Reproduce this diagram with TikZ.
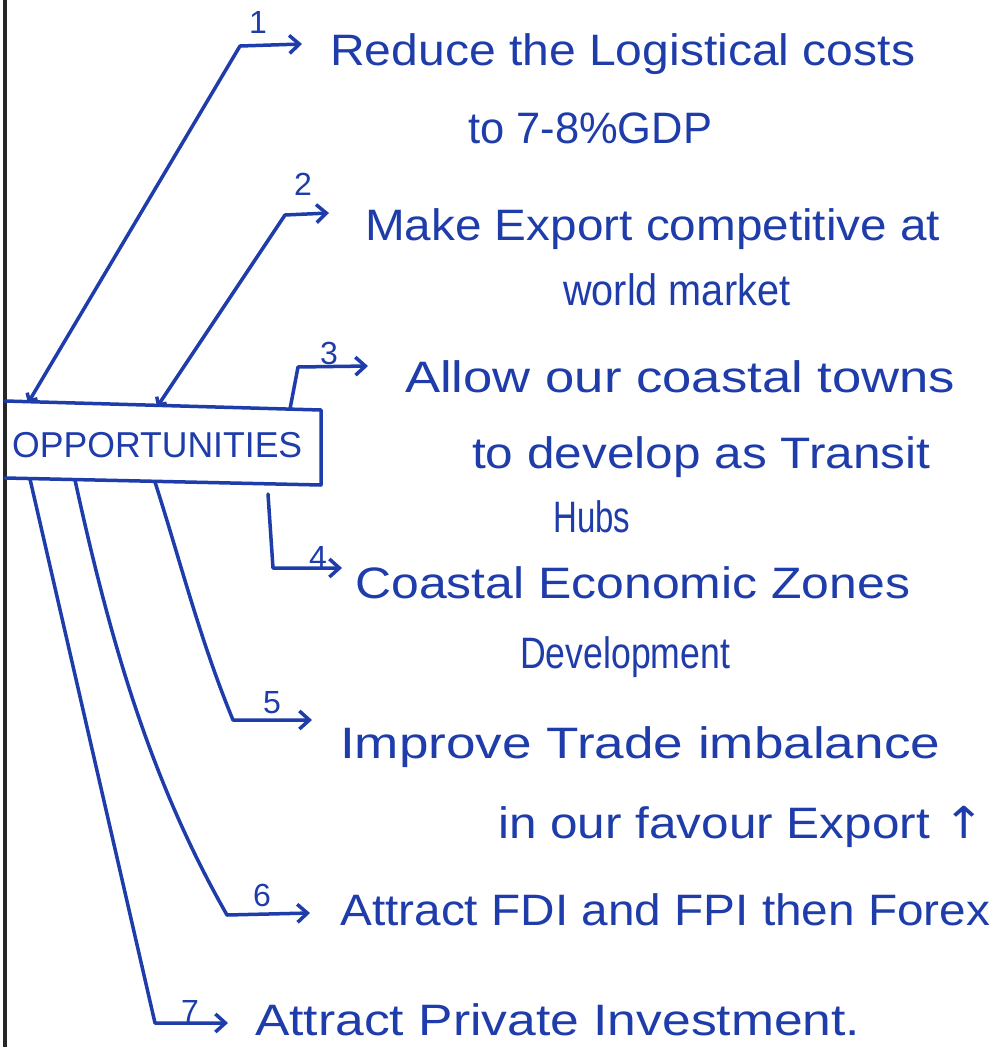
\documentclass[tikz,border=0pt]{standalone}
\usepackage{fontspec}
\usepackage{graphicx}
\setmainfont{Liberation Sans}
\newfontfamily\dvfont{DejaVu Sans}
\usetikzlibrary{arrows.meta}
\definecolor{ink}{RGB}{30,60,170}
\newcommand{\hw}[2]{\resizebox{#1pt}{\height}{#2}}
\tikzset{
  txt/.style={anchor=base west, inner sep=0pt, text=ink, font=\fontsize{44}{50}\selectfont},
  num/.style={inner sep=0pt, text=ink, font=\fontsize{32}{36}\selectfont},
  con/.style={draw=ink, line width=3.5pt, line cap=round, line join=round},
  tip/.style={-{Straight Barb[length=10pt,width=18pt,line width=3.5pt]}},
  tips/.style={{Straight Barb[length=6pt,width=12pt,line width=3.5pt]}-{Straight Barb[length=10pt,width=18pt,line width=3.5pt]}},
}
\begin{document}
\begin{tikzpicture}[x=1pt,y=-1pt]
\useasboundingbox[fill=white] (0,0) rectangle (998,1047);
% page border
\draw[line width=4pt, black!85] (5,0) -- (5,1047);
% box corners
\coordinate (tl) at (5,401);
\coordinate (tr) at (321,410);
\coordinate (br) at (321,485);
\coordinate (bl) at (5,478);
\draw[con] (tl) -- (tr) -- (br) -- (bl);
\node[inner sep=0pt, text=ink, font=\fontsize{36}{40}\selectfont, anchor=base west] (opp) at (12,457) {\hw{290}{OPPORTUNITIES}};
% connector anchor points on box
\coordinate (b1) at (28,403);
\coordinate (b2) at (157,407);
\coordinate (b3) at (290,409);
\coordinate (b4) at (268,494);
\coordinate (b5) at (155,482);
\coordinate (b6) at (75,480);
\coordinate (b7) at (30,479);
% bends
\coordinate (k1) at (240,46);
\coordinate (k2) at (285,215);
\coordinate (k3) at (298,367);
\coordinate (k4) at (273,568);
\coordinate (k5) at (233,720);
\coordinate (k6) at (227,915);
\coordinate (k7) at (155,1023);
% ends
\coordinate (e1) at (302,44);
\coordinate (e2) at (329,213);
\coordinate (e3) at (368,366);
\coordinate (e4) at (342,568);
\coordinate (e5) at (312,720);
\coordinate (e6) at (310,913);
\coordinate (e7) at (228,1023);
% connectors
\draw[con,tips] (b1) -- (k1) -- (e1);
\draw[con,tips] (b2) -- (k2) -- (e2);
\draw[con,tip] (b3) -- (k3) -- (e3);
\draw[con,tip] (b4) -- (k4) -- (e4);
\draw[con,tip] (b5) .. controls (180,560) and (200,640) .. (k5) -- (e5);
\draw[con,tip] (b6) .. controls (110,640) and (150,780) .. (k6) -- (e6);
\draw[con,tip] (b7) -- (k7) -- (e7);
% numbers
\node[num] (n1) at (258,22) {1};
\node[num] (n2) at (303,184) {2};
\node[num] (n3) at (329,353) {3};
\node[num] (n4) at (318,557) {4};
\node[num] (n5) at (272,703) {5};
\node[num] (n6) at (262,895) {6};
\node[num] (n7) at (190,1011) {7};
% texts
\node[txt] (t1a) at (330,65) {\hw{585}{Reduce the Logistical costs}};
\node[txt] (t1b) at (468,143) {\hw{244}{to 7-8\%GDP}};
\node[txt] (t2a) at (365,240) {\hw{575}{Make Export competitive at}};
\node[txt] (t2b) at (563,305) {\hw{227}{world market}};
\node[txt] (t3a) at (405,392) {\hw{550}{Allow our coastal towns}};
\node[txt] (t3b) at (472,468) {\hw{458}{to develop as Transit}};
\node[txt] (t3c) at (553,532) {\hw{77}{Hubs}};
\node[txt] (t4a) at (355,598) {\hw{555}{Coastal Economic Zones}};
\node[txt] (t4b) at (520,668) {\hw{210}{Development}};
\node[txt] (t5a) at (340,758) {\hw{600}{Improve Trade imbalance}};
\node[txt] (t5b) at (498,838) {\hw{487}{in our favour Export {\dvfont ↑}}};
\node[txt] (t6) at (340,925) {\hw{650}{Attract FDI and FPI then Forex}};
\node[txt] (t7) at (255,1035) {\hw{605}{Attract Private Investment.}};
\end{tikzpicture}
\end{document}
